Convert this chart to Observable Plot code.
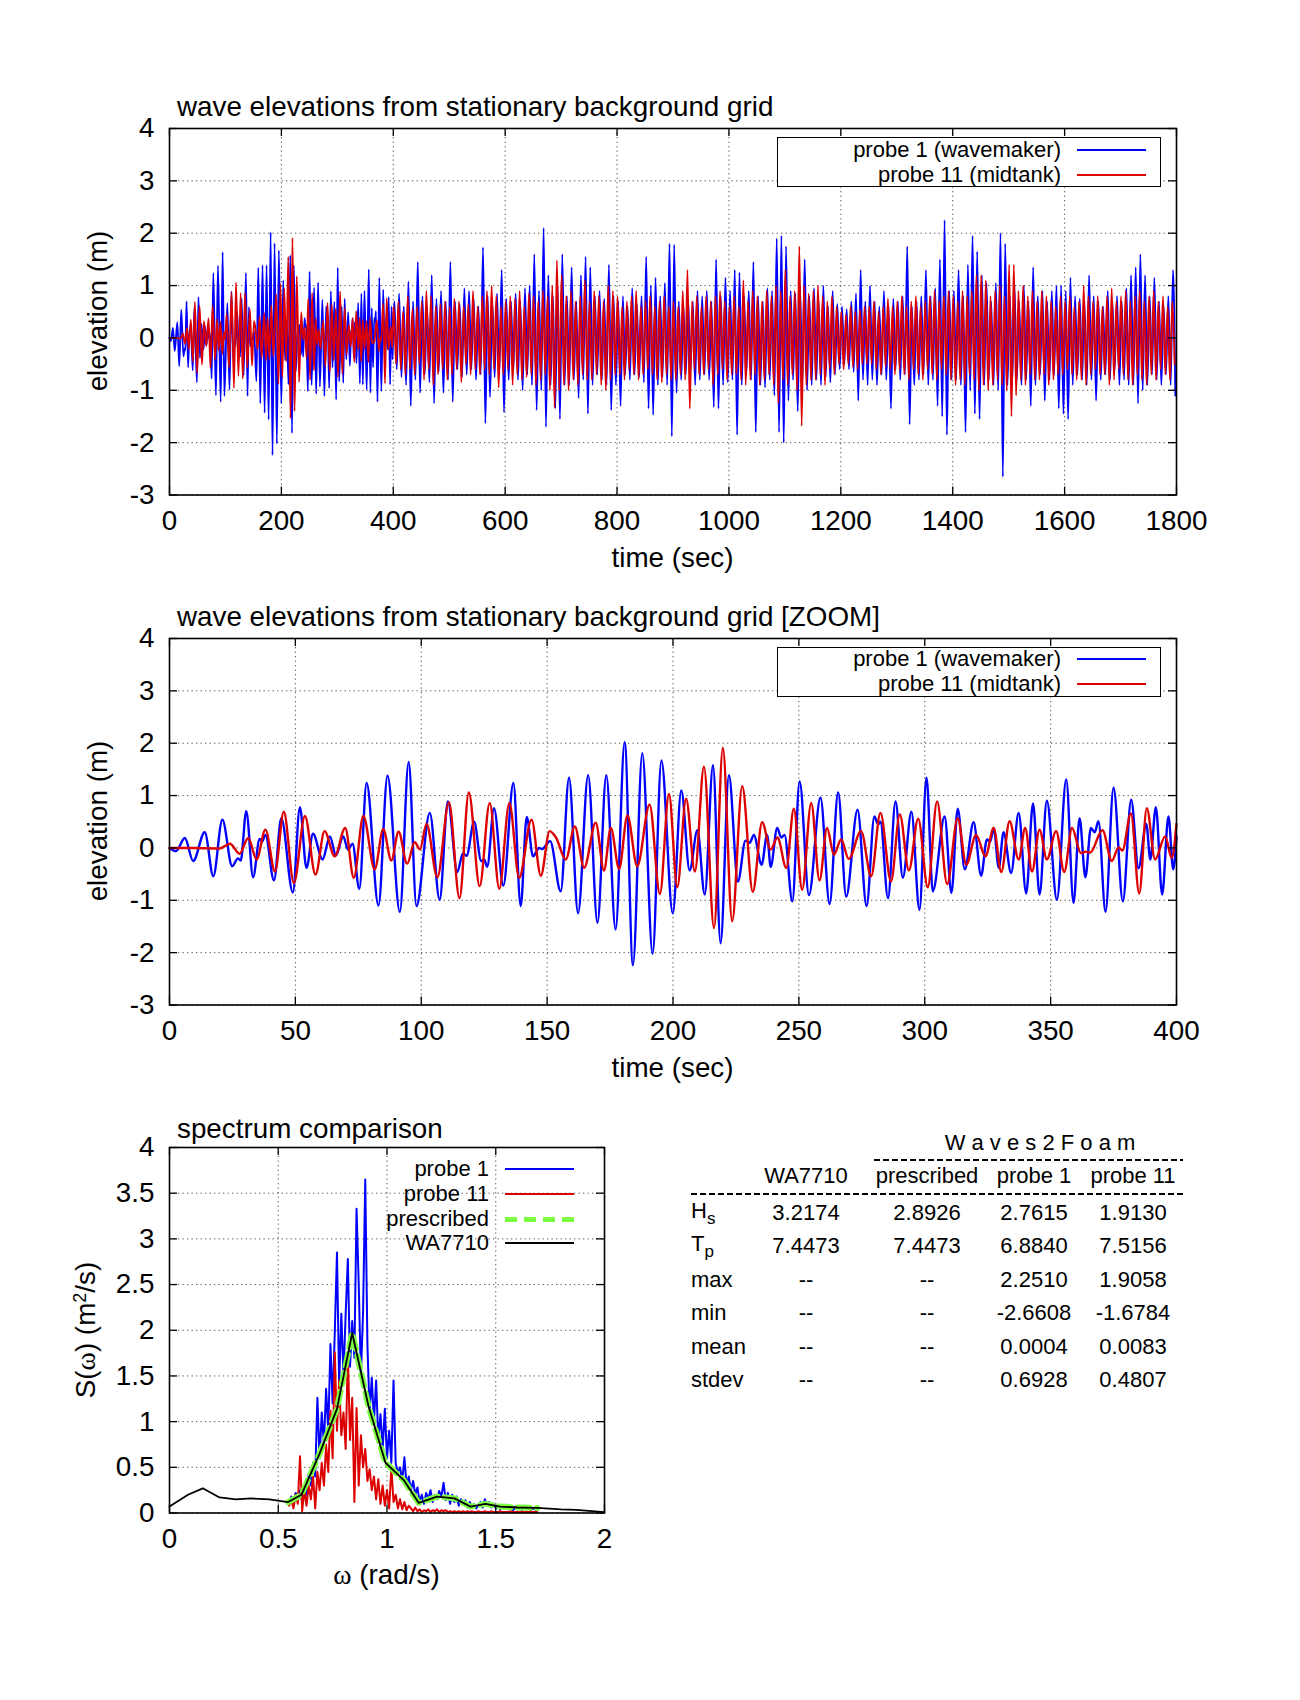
<!DOCTYPE html>
<html><head><meta charset="utf-8">
<script src="https://cdn.jsdelivr.net/npm/d3@7"></script>
<script src="https://cdn.jsdelivr.net/npm/@observablehq/plot@0.6"></script>
<style>
body{margin:0;background:#fff;}
#root{position:relative;width:1300px;height:1700px;font-family:"Liberation Sans",Arial,Helvetica,sans-serif;color:#000;overflow:hidden;}
.t{position:absolute;white-space:nowrap;line-height:1;}
.big{font-size:27.8px;}
.mid{font-size:22px;}
.sym{font-family:"Liberation Serif","DejaVu Serif",serif;}
.legbox{position:absolute;border:1.5px solid #000;background:#fff;box-sizing:border-box;}
.sample{position:absolute;height:2px;}
.dash{position:absolute;height:2px;background:repeating-linear-gradient(90deg,#000 0 6px,transparent 6px 9px);}
</style></head>
<body><div id="root"></div>
<script>
// ---------------- tick values ----------------
const xTicksFull = [0,200,400,600,800,1000,1200,1400,1600,1800];
const xTicksZoom = [0,50,100,150,200,250,300,350,400];
const yTicksElev = [-3,-2,-1,0,1,2,3,4];
const xTicksSpec = [0,0.5,1,1.5,2];
const yTicksSpec = [0,0.5,1,1.5,2,2.5,3,3.5,4];

// ---------------- probe 1 (wavemaker), 0-400 s : extrema ----------------
const probe1ZoomTime = [0,2.6,6.1,9.4,14,17.4,21,24.9,27.2,28.3,30.5,33.2,35.8,36.8,38.1,41.5,44.4,49,51.8,54.4,57,60.8,63.7,66.1,69,70.9,72.7,75.4,78.3,83,86.6,91.5,95,98.1,103.4,107.3,110.6,114.3,116.6,118,121,123.8,125,126.2,128.9,132.6,136.6,139.5,141.9,144.4,146.8,148,151.2,155.4,158.7,162.3,166.3,170,173.5,177.2,180.8,184.1,187.8,191.9,195.4,199.9,203.3,206.6,209.7,212.6,215.9,218.9,222.2,225.8,228.8,230.5,232.1,235.2,237.4,238.8,241.4,243,244.3,247.4,250.3,254,258.6,262.2,265.6,268.8,273.3,276.9,280,281.5,282.4,285.4,288.4,291.3,294.7,297.9,300.7,303.2,307.9,310.6,313.1,315.9,319.4,322.4,324.7,326,327.4,329.4,331.3,334.3,337.3,340.3,343,345.6,348.5,352.5,356.2,359.1,361.5,363.8,366,367.5,369,371.8,375,378.7,382,384.9,388,389.6,391.8,394.3,396.8,398.7,400];
const probe1ZoomElev = [0,-0.06,0.19,-0.25,0.3,-0.54,0.54,-0.35,-0.2,-0.24,0.7,-0.56,0.17,0.12,0.25,-0.62,0.57,-0.85,0.78,-0.38,0.27,-0.22,0.22,-0.14,0.22,-0.03,0.08,-0.78,1.24,-1.1,1.38,-1.22,1.64,-1.11,0.67,-0.99,0.89,-0.46,-0.1,-0.15,0.5,-0.25,-0.22,-0.36,0.76,-0.72,1.24,-1.11,0.59,-0.16,0,-0.02,0.13,-0.83,1.34,-1.25,1.39,-1.43,1.39,-1.56,2.02,-2.24,1.81,-2.02,1.67,-1.25,1.1,-0.43,0.34,-0.89,1.58,-1.82,1.39,-0.64,0.14,0.1,0.25,-0.32,0.25,-0.36,0.38,0.2,0.25,-1.02,1.27,-0.9,0.96,-1.07,1.06,-0.93,0.73,-1.11,0.6,0.45,0.5,-0.96,0.89,-0.57,0.69,-1.18,1.34,-0.83,0.6,-0.86,0.75,-0.41,0.49,-0.53,0.16,0.12,0.38,-0.38,0.3,-0.48,0.67,-0.87,0.85,-0.89,0.9,-0.99,1.31,-1.05,0.57,-0.56,0.38,0.3,0.51,-1.22,1.15,-1.02,0.92,-0.39,0.46,-0.22,0.78,-0.89,0.6,-0.41,0.22];

// ---------------- probe 11 (midtank), 0-400 s ----------------
const probe11ZoomTime = [0,10,20,24,27.8,31.3,34.6,38.1,41.9,45.4,49.4,53.8,58,61.6,65.6,69.8,73.2,77,81.5,84.9,88.1,91,94.4,97.4,99.5,102.1,106.4,111,115.2,118.9,123.2,127.2,131,135,138.9,143.8,147.5,151,153.5,157.4,161,164.7,169.3,172.6,175.3,178.6,181.9,185.8,190.7,194.8,198.4,201.7,205.2,208.7,212.3,216.3,219.8,223.5,227.5,231.7,235.4,238.8,241.5,245,248,251.3,254.9,258.2,261.2,263.9,266.8,269.8,274.7,278.7,282.4,286.6,290.1,293.7,297.4,301.2,304.9,308.9,313.1,316.5,320.4,324.1,327.4,330.4,333.7,337.3,339.9,342.6,345.6,348.5,352.2,355.4,358.5,362,364,365.7,370.6,374.3,377,378.5,381.9,385.2,388.2,391.5,395.5,398.1,400];
const probe11ZoomElev = [0,0,-0.01,0.08,-0.11,0.19,-0.22,0.35,-0.45,0.69,-0.67,0.61,-0.51,0.32,-0.16,0.38,-0.57,0.61,-0.41,0.36,-0.24,0.31,-0.3,0.11,-0.03,0.46,-0.56,0.87,-0.96,1.06,-0.73,0.86,-0.78,0.86,-0.57,0.54,-0.53,0.32,0.2,-0.22,0.41,-0.38,0.48,-0.43,0.38,-0.4,0.62,-0.35,0.83,-0.88,1.03,-0.75,0.94,-0.45,1.55,-1.53,1.91,-1.4,1.18,-0.84,0.49,-0.03,0.2,-0.38,0.75,-0.8,0.86,-0.62,0.38,-0.13,0.16,-0.21,0.32,-0.54,0.67,-0.64,0.64,-0.43,0.56,-0.75,0.89,-0.69,0.57,-0.32,0.25,-0.16,0.38,-0.46,0.51,-0.22,0.38,-0.45,0.35,-0.22,0.32,-0.46,0.38,-0.1,-0.07,-0.09,0.34,-0.25,0.01,-0.05,0.66,-0.87,0.76,-0.22,0.22,-0.19,0.46];

// ---------------- 400-1800 s : alternating crest/trough heights, 12 per 50 s (read from full record) ----------------
const longStart = 400, longStep = 50 / 12;
const probe1Long = [
0.7,-0.6,0.85,-0.75,0.6,-0.9,1.08,-1.3,0.7,-0.8,1.45,-1.05,
0.8,-0.7,0.6,-0.85,1.2,-1.25,0.75,-0.65,0.9,-1.05,0.7,-0.8,
1.45,-1.22,0.7,-0.6,0.65,-0.75,0.95,-0.7,0.9,-0.6,0.75,-0.8,
0.6,-0.7,1.73,-1.63,0.8,-1.13,0.7,-0.75,0.85,-0.7,1.3,-1.42,
0.75,-0.8,0.7,-0.65,0.85,-0.8,0.7,-1.0,0.95,-0.7,1.0,-0.9,
1.6,-1.38,0.9,-1.0,2.1,-1.7,1.2,-0.9,0.8,-1.35,1.0,-1.55,
1.6,-0.9,0.8,-0.9,1.35,-0.8,0.7,-1.15,1.2,-0.8,1.55,-1.45,
1.35,-0.9,0.8,-0.7,0.9,-0.8,0.75,-0.9,1.4,-1.38,0.8,-0.9,
0.7,-1.3,0.8,-0.7,0.6,-0.8,0.95,-0.7,0.65,-0.75,0.8,-0.85,
1.55,-1.35,1.0,-1.47,1.15,-0.9,0.8,-0.75,1.05,-0.9,1.8,-1.88,
1.78,-1.05,0.7,-0.8,0.6,-0.7,0.75,-0.65,0.7,-0.9,0.9,-0.8,
0.8,-0.7,0.9,-0.8,0.7,-1.32,1.5,-1.35,0.8,-0.9,1.15,-0.85,
0.9,-0.8,1.3,-1.85,1.25,-0.9,0.8,-0.7,0.9,-0.8,1.45,-1.8,
0.8,-0.9,0.7,-0.95,0.95,-0.8,0.9,-1.1,1.9,-1.8,1.95,-2.0,
1.75,-1.2,0.9,-0.8,0.85,-1.4,1.0,-0.9,1.5,-1.0,0.8,-0.9,
0.95,-0.8,0.7,-0.9,1.0,-0.75,0.6,-0.85,0.9,-0.7,0.65,-0.6,
0.6,-0.5,0.55,-0.6,0.7,-0.65,0.85,-1.2,1.3,-0.8,0.7,-0.9,
1.0,-0.8,0.7,-0.9,0.6,-0.7,0.9,-0.8,0.6,-1.35,0.75,-0.6,
0.7,-0.8,0.8,-0.7,1.75,-1.65,0.6,-0.9,0.7,-0.8,0.8,-0.7,
1.3,-0.9,0.8,-0.8,0.95,-1.3,1.5,-1.5,2.25,-1.85,0.9,-0.8,
0.9,-0.8,1.3,-0.9,0.8,-1.8,1.4,-1.0,1.95,-1.45,1.65,-1.55,
1.2,-0.9,1.05,-0.8,0.7,-0.9,1.05,-1.0,2.0,-2.65,1.8,-0.9,
0.8,-0.9,1.0,-0.8,0.7,-0.9,1.0,-0.8,0.7,-1.3,1.35,-0.9,
0.8,-0.7,0.9,-1.2,0.7,-0.8,0.9,-0.7,1.0,-1.35,1.0,-1.45,
0.9,-1.55,1.15,-0.9,0.8,-0.7,0.75,-0.8,0.7,-0.9,1.2,-0.8,
0.8,-1.2,0.7,-0.8,0.6,-0.7,0.9,-0.8,0.7,-0.6,0.8,-0.9,
0.7,-0.8,0.95,-0.9,1.2,-0.9,1.35,-1.25,1.6,-1.0,1.2,-0.9,
0.8,-0.7,1.15,-0.8,0.7,-0.9,0.6,-0.7,0.8,-0.9,1.3,-1.1];
const probe11Long = [
0.6,-0.5,0.7,-0.6,0.5,-0.7,0.8,-0.6,0.55,-0.7,0.6,-0.5,
0.7,-0.8,0.9,-0.6,0.8,-0.9,0.6,-0.7,0.65,-0.6,0.7,-0.8,
0.6,-0.7,0.75,-0.6,0.7,-0.85,0.6,-0.5,0.65,-0.7,0.9,-0.6,
0.6,-0.7,0.8,-0.6,0.9,-0.7,1.0,-0.6,0.8,-0.95,0.6,-0.7,
0.7,-0.6,0.8,-0.9,0.75,-0.7,0.9,-0.8,0.6,-0.75,0.85,-0.7,
0.8,-0.9,0.7,-0.8,0.9,-0.7,0.8,-1.0,1.0,-1.33,1.48,-1.0,
1.2,-0.9,0.8,-1.0,0.9,-0.8,0.7,-0.9,0.8,-0.7,1.1,-0.8,
0.7,-0.8,0.9,-0.7,0.8,-0.9,0.7,-1.0,1.0,-0.8,0.9,-0.7,
0.8,-0.7,0.6,-0.8,0.7,-0.6,0.8,-0.7,0.9,-0.8,0.6,-0.7,
0.7,-0.6,0.8,-0.7,0.6,-0.8,0.7,-0.85,0.8,-0.7,0.6,-0.8,
0.7,-0.8,0.6,-0.7,0.9,-0.8,1.3,-1.35,0.7,-0.6,0.8,-0.7,
0.6,-0.7,0.8,-0.6,0.7,-0.9,0.8,-0.7,0.9,-0.6,0.7,-0.8,
0.6,-0.7,0.8,-0.7,0.6,-0.8,1.1,-0.9,0.7,-0.8,0.9,-0.7,
0.8,-0.9,0.7,-0.8,0.9,-0.7,0.8,-0.9,1.0,-1.25,0.9,-0.8,
1.3,-0.9,0.8,-0.7,0.9,-1.0,1.75,-1.68,1.0,-0.9,0.85,-0.8,
0.9,-0.8,1.0,-0.7,0.8,-0.9,0.7,-0.6,0.8,-0.7,0.6,-0.5,
0.5,-0.6,0.45,-0.5,0.6,-0.55,0.5,-0.6,0.55,-0.5,0.6,-0.5,
0.6,-0.5,0.7,-0.6,0.5,-0.7,0.6,-0.55,0.75,-0.6,0.6,-0.7,
0.7,-0.6,0.8,-0.7,0.6,-0.8,0.7,-0.6,0.8,-0.7,0.6,-0.8,
0.7,-0.6,0.8,-0.7,0.9,-0.8,0.7,-0.6,0.8,-0.7,0.9,-0.8,
0.8,-0.9,0.7,-0.8,0.9,-0.9,0.8,-0.7,0.9,-0.8,1.2,-1.0,
1.2,-0.9,1.1,-1.0,0.8,-0.9,0.9,-0.8,1.0,-0.9,0.8,-1.0,
1.4,-1.5,1.4,-1.1,0.9,-0.8,1.0,-0.9,0.8,-0.7,0.9,-0.8,
0.7,-0.8,0.9,-0.7,0.8,-0.9,0.7,-0.8,0.6,-0.7,0.8,-0.7,
0.7,-0.6,0.8,-0.7,0.6,-0.8,0.7,-0.8,1.0,-0.9,0.8,-0.7,
0.7,-0.6,0.8,-0.7,0.6,-0.7,0.8,-0.9,0.95,-0.8,0.7,-0.6,
0.8,-0.7,0.9,-0.8,0.7,-0.9,0.8,-0.7,0.9,-0.8,0.7,-0.9,
0.8,-0.7,0.9,-0.8,0.7,-0.6,0.8,-0.7,0.6,-0.8,0.7,-0.5];

// ---------------- spectra ----------------
const specOmegaStart = 0.55, specOmegaStep = 0.01;
const probe1Spec = [
0.12,0.18,0.10,0.22,0.15,0.25,0.12,0.30,0.20,0.42,
0.30,0.55,0.40,1.26,0.60,1.10,0.75,1.36,0.90,1.85,
1.20,1.98,2.85,1.40,2.18,1.50,2.18,2.78,1.60,2.10,
1.70,3.33,2.50,1.50,2.20,3.65,1.84,1.10,1.48,1.00,
1.45,0.80,1.08,0.70,1.14,0.60,0.90,0.55,1.45,0.54,
0.45,0.50,0.35,0.61,0.30,0.40,0.25,0.35,0.20,0.28,
0.12,0.20,0.10,0.22,0.15,0.25,0.12,0.20,0.15,0.24,
0.18,0.33,0.14,0.22,0.10,0.20,0.12,0.18,0.08,0.15,
0.10,0.14,0.06,0.12,0.07,0.10,0.05,0.09,0.12,0.06,
0.15,0.08,0.12,0.06,0.10,0.05,0.08,0.04,0.07,0.05,
0.09,0.04,0.06,0.03,0.07,0.04,0.06,0.03,0.08,0.04,
0.06,0.03,0.05,0.04,0.02];
const probe11Spec = [
0.08,0.15,0.05,0.20,0.10,0.62,0.02,0.25,0.08,0.30,
0.15,0.40,0.05,0.45,0.25,0.55,0.30,0.75,0.45,1.12,
0.60,1.76,0.90,1.45,0.85,1.10,0.70,1.74,0.80,1.26,
0.12,1.15,0.30,0.85,0.50,0.70,0.35,0.48,0.25,0.40,
0.15,0.37,0.10,0.30,0.08,0.25,0.05,0.50,0.12,0.20,
0.05,0.15,0.04,0.12,0.03,0.08,0.05,0.02,0.06,0.02,
0.04,0.01,0.03,0.02,0.04,0.01,0.03,0.02,0.04,0.01,
0.03,0.02,0.03,0.01,0.02,0.01,0.02,0.01,0.02,0.01,
0.02,0.01,0.02,0.01,0.02,0.01,0.01,0.02,0.01,0.01,
0.02,0.01,0.01,0.02,0.01,0.01,0.01,0.02,0.01,0.01,
0.01,0.01,0.02,0.01,0.01,0.01,0.01,0.01,0.01,0.01,
0.01,0.01,0.01,0.01,0.01];
const prescribedOmega = [0.545,0.607,0.69,0.77,0.84,0.915,0.993,1.077,1.146,1.23,1.31,1.384,1.453,1.52,1.6,1.69];
const prescribedS     = [0.12,0.2,0.65,1.14,1.97,1.17,0.55,0.36,0.11,0.18,0.16,0.07,0.10,0.07,0.06,0.055];
const wa7710Omega = [0,0.085,0.153,0.23,0.306,0.374,0.459,0.545,0.607,0.69,0.77,0.84,0.915,0.993,1.077,1.146,1.23,1.31,1.384,1.453,1.52,1.6,1.69,1.8,1.87,2.0];
const wa7710S     = [0.07,0.20,0.27,0.17,0.15,0.16,0.15,0.12,0.2,0.65,1.14,1.97,1.17,0.55,0.36,0.11,0.18,0.16,0.07,0.10,0.07,0.06,0.055,0.04,0.035,0.01];

// ---------------- table ----------------
const tableColumns = ["WA7710","prescribed","probe 1","probe 11"];
const tableRowLabels = ["H|s","T|p","max","min","mean","stdev"];
const tableWA7710     = ["3.2174","7.4473","--","--","--","--"];
const tablePrescribed = ["2.8926","7.4473","--","--","--","--"];
const tableProbe1     = ["2.7615","6.8840","2.2510","-2.6608","0.0004","0.6928"];
const tableProbe11    = ["1.9130","7.5156","1.9058","-1.6784","0.0083","0.4807"];

// ---------------- colours ----------------
const BLUE = "#0000ff", RED = "#dd0000", GREEN = "#7cff40", BLACK = "#000";

// ================= build =================
const root = document.getElementById("root");
function addText(html, x, y, cls, align) {
  const d = document.createElement("div");
  d.className = "t " + cls;
  d.innerHTML = html;
  d.style.left = x + "px"; d.style.top = y + "px";
  const tx = align === "left" ? "0" : align === "right" ? "-100%" : "-50%";
  d.style.transform = `translate(${tx},-50%)`;
  root.appendChild(d);
  return d;
}
function addRotText(html, cx, cy, cls) {
  const d = document.createElement("div");
  d.className = "t " + cls;
  d.innerHTML = html;
  d.style.left = cx + "px"; d.style.top = cy + "px";
  d.style.transform = "translate(-50%,-50%) rotate(-90deg)";
  root.appendChild(d);
}
function addEl(cls, x, y, w, h, style) {
  const d = document.createElement("div");
  d.className = cls;
  Object.assign(d.style, {left: x + "px", top: y + "px", width: w + "px"}, h != null ? {height: h + "px"} : {}, style || {});
  root.appendChild(d);
  return d;
}

const FRAME_L = 169, FRAME_R = 1176;
const fmt = d => String(d);

function framedPlot({width, frameTop, frameBottom, marginRight, xDomain, yDomain, xTicks, yTicks, lines}) {
  const mt = 20, mb = 60;
  const innerH = frameBottom - frameTop;
  const innerW = width - FRAME_L - marginRight;
  const svg = Plot.plot({
    width, height: innerH + mt + mb,
    marginLeft: FRAME_L, marginRight, marginTop: mt, marginBottom: mb,
    x: {domain: xDomain, label: null}, y: {domain: yDomain, label: null},
    style: {fontFamily: '"Liberation Sans", Arial, sans-serif', fontSize: "27.8px", color: "#000", background: "transparent", overflow: "visible"},
    marks: [
      Plot.gridX(xTicks, {stroke: "#444", strokeOpacity: 0.9, strokeWidth: 1, strokeDasharray: "1.3,3.2"}),
      Plot.gridY(yTicks, {stroke: "#444", strokeOpacity: 0.9, strokeWidth: 1, strokeDasharray: "1.3,3.2"}),
      ...lines,
      Plot.tickX(xTicks, {x: d => d, insetTop: innerH - 8, stroke: BLACK, strokeWidth: 1.3}),
      Plot.tickX(xTicks, {x: d => d, insetBottom: innerH - 8, stroke: BLACK, strokeWidth: 1.3}),
      Plot.tickY(yTicks, {y: d => d, insetRight: innerW - 8, stroke: BLACK, strokeWidth: 1.3}),
      Plot.tickY(yTicks, {y: d => d, insetLeft: innerW - 8, stroke: BLACK, strokeWidth: 1.3}),
      Plot.axisX(xTicks, {tickSize: 0, tickPadding: 15, tickFormat: fmt, fontSize: 27.8, label: null}),
      Plot.axisY(yTicks, {tickSize: 0, tickPadding: 15, tickFormat: fmt, fontSize: 27.8, label: null}),
      Plot.frame({stroke: BLACK, strokeWidth: 1.6})
    ]
  });
  svg.style.position = "absolute";
  svg.style.left = "0px";
  svg.style.top = (frameTop - mt) + "px";
  root.appendChild(svg);
}

// ---- data tables ----
const zoom1 = probe1ZoomTime.map((t, i) => ({t, v: probe1ZoomElev[i]}));
const zoom11 = probe11ZoomTime.map((t, i) => ({t, v: probe11ZoomElev[i]}));
const full1 = zoom1.concat(probe1Long.map((v, i) => ({t: longStart + (i + 0.5) * longStep, v})));
const full11 = zoom11.concat(probe11Long.map((v, i) => ({t: longStart + (i + 0.2) * longStep, v})));
const spec1 = probe1Spec.map((s, i) => ({w: specOmegaStart + i * specOmegaStep, s}));
const spec11 = probe11Spec.map((s, i) => ({w: specOmegaStart + i * specOmegaStep, s}));
const presc = prescribedOmega.map((w, i) => ({w, s: prescribedS[i]}));
const wa = wa7710Omega.map((w, i) => ({w, s: wa7710S[i]}));

// ---- panel 1 ----
framedPlot({
  width: 1300, frameTop: 128, frameBottom: 494.5, marginRight: 1300 - FRAME_R,
  xDomain: [0, 1800], yDomain: [-3, 4], xTicks: xTicksFull, yTicks: yTicksElev,
  lines: [
    Plot.line(full1, {x: "t", y: "v", stroke: BLUE, strokeWidth: 1.8, curve: "monotone-x"}),
    Plot.line(full11, {x: "t", y: "v", stroke: RED, strokeWidth: 1.8, curve: "monotone-x"})
  ]
});
// ---- panel 2 ----
framedPlot({
  width: 1300, frameTop: 637.5, frameBottom: 1004, marginRight: 1300 - FRAME_R,
  xDomain: [0, 400], yDomain: [-3, 4], xTicks: xTicksZoom, yTicks: yTicksElev,
  lines: [
    Plot.line(zoom1, {x: "t", y: "v", stroke: BLUE, strokeWidth: 2.4, curve: "monotone-x"}),
    Plot.line(zoom11, {x: "t", y: "v", stroke: RED, strokeWidth: 2.4, curve: "monotone-x"})
  ]
});
// ---- panel 3 ----
framedPlot({
  width: 700, frameTop: 1147, frameBottom: 1512.5, marginRight: 700 - 604,
  xDomain: [0, 2], yDomain: [0, 4], xTicks: xTicksSpec, yTicks: yTicksSpec,
  lines: [
    Plot.line(spec1, {x: "w", y: "s", stroke: BLUE, strokeWidth: 2}),
    Plot.line(spec11, {x: "w", y: "s", stroke: RED, strokeWidth: 2}),
    Plot.line(presc, {x: "w", y: "s", stroke: GREEN, strokeWidth: 6, strokeDasharray: "12,7"}),
    Plot.line(wa, {x: "w", y: "s", stroke: BLACK, strokeWidth: 1.8})
  ]
});

// ---- titles & axis labels ----
addText("wave elevations from stationary background grid", 177, 107, "big", "left");
addText("wave elevations from stationary background grid [ZOOM]", 177, 617, "big", "left");
addText("spectrum comparison", 177, 1129, "big", "left");
addRotText("elevation (m)", 98, 311, "big");
addRotText("elevation (m)", 98, 821, "big");
addRotText('S(<span class="sym">ω</span>) (m<sup style="font-size:18px;vertical-align:9px;">2</sup>/s)', 85, 1330, "big");
addText("time (sec)", 672.5, 558, "big", "center");
addText("time (sec)", 672.5, 1068, "big", "center");
addText('<span class="sym">ω</span> (rad/s)', 386.5, 1575, "big", "center");

// ---- legends (time panels) ----
const legendLabels = ["probe 1 (wavemaker)", "probe 11 (midtank)"];
const legendColors = [BLUE, RED];
[[137, 150, 175], [646.5, 659, 684]].forEach(([boxTop, r1, r2]) => {
  addEl("legbox", 777, boxTop, 384, 50);
  [r1, r2].forEach((y, i) => {
    addText(legendLabels[i], 1061, y, "mid", "right");
    addEl("sample", 1077, y - 1, 69, 2, {background: legendColors[i]});
  });
});
// ---- legend (spectrum) ----
const specLegend = ["probe 1", "probe 11", "prescribed", "WA7710"];
const specLegendY = [1169, 1194, 1219, 1243];
specLegend.forEach((lab, i) => {
  addText(lab, 489, specLegendY[i], "mid", "right");
  const y = specLegendY[i];
  if (i === 2) addEl("sample", 505, y - 2.5, 69, 5, {background: `repeating-linear-gradient(90deg, ${GREEN} 0 12px, transparent 12px 19px)`});
  else addEl("sample", 505, y - 1, 69, 2, {background: [BLUE, RED, null, BLACK][i]});
});

// ---- table ----
addText("W a v e s 2 F o a m", 1040, 1143, "mid", "center");
addEl("dash", 874, 1159, 309);
const colX = [806, 927, 1034, 1133];
tableColumns.forEach((c, i) => addText(c, colX[i], 1176, "mid", "center"));
addEl("dash", 691, 1193, 494);
const rowY = [1213, 1246, 1280, 1313, 1347, 1380];
const cols = [tableWA7710, tablePrescribed, tableProbe1, tableProbe11];
tableRowLabels.forEach((lab, r) => {
  const [main, sub] = lab.split("|");
  const html = sub ? `${main}<sub style="font-size:17px;vertical-align:-6px;">${sub}</sub>` : main;
  addText(html, 691, rowY[r], "mid", "left");
  cols.forEach((col, c) => addText(col[r], colX[c], rowY[r], "mid", "center"));
});
</script></body></html>
